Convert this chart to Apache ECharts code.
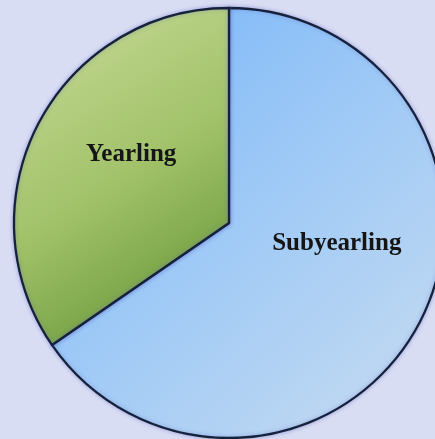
<!DOCTYPE html>
<html><head><meta charset="utf-8">
<script src="https://cdn.jsdelivr.net/npm/echarts@6/dist/echarts.min.js"></script>
<style>html,body{margin:0;padding:0;background:#d9ddf3;}#c{width:435px;height:439px;}</style>
</head><body><div id="c"></div>
<script>
const categories = ['Subyearling', 'Yearling'];
const values = [65.4, 34.6];

const styles = {
  Subyearling: {
    color: new echarts.graphic.LinearGradient(0, 0, 1, 1, [
      {offset: 0, color: '#76b4f8'},
      {offset: 0.5, color: '#a0caf6'},
      {offset: 1, color: '#c8dcf0'}
    ]),
    offset: [10, -31]
  },
  Yearling: {
    color: new echarts.graphic.LinearGradient(0, 0, 1, 1, [
      {offset: 0, color: '#cadd9a'},
      {offset: 0.5, color: '#a2c26a'},
      {offset: 1, color: '#5a8e2c'}
    ]),
    offset: [0, -17]
  }
};

const chart = echarts.init(document.getElementById('c'));
chart.setOption({
  backgroundColor: '#d9ddf3',
  animation: false,
  series: [{
    type: 'pie',
    center: [229, 223],
    radius: 215,
    startAngle: 90,
    clockwise: true,
    silent: true,
    itemStyle: {
      borderColor: '#15223a',
      borderWidth: 2.3,
      shadowColor: 'rgba(90,100,200,0.45)',
      shadowBlur: 4
    },
    label: {
      show: true,
      position: 'inside',
      fontFamily: 'Liberation Serif',
      fontWeight: 'bold',
      fontSize: 25,
      color: '#151515'
    },
    labelLine: {show: false},
    data: categories.map((c, i) => ({
      name: c,
      value: values[i],
      itemStyle: {color: styles[c].color},
      label: {formatter: '{b}', offset: styles[c].offset}
    }))
  }]
});
</script></body></html>
